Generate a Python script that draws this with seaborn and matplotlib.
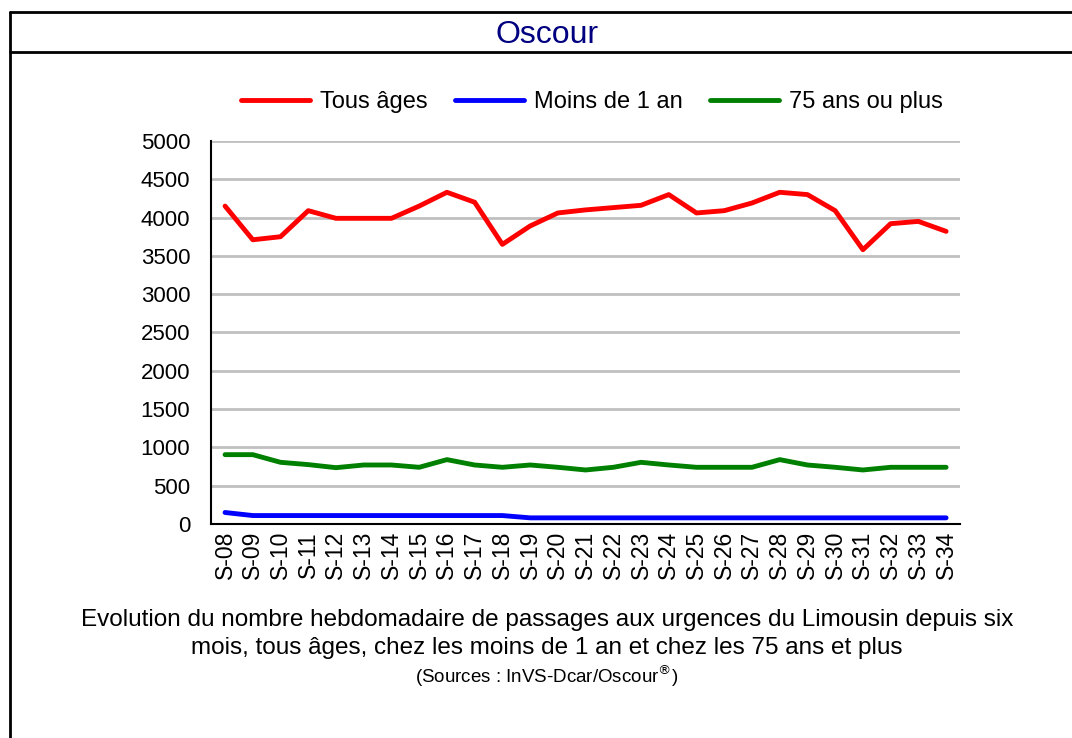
import numpy as np
import pandas as pd
import seaborn as sns
import matplotlib

matplotlib.use('Agg')
import matplotlib.pyplot as plt
from matplotlib.lines import Line2D

# Semaines S-08 .. S-34
semaines = [f"S-{i:02d}" for i in range(8, 35)]

tous_ages = [4150, 3710, 3750, 4090, 3990, 3990, 3990, 4150, 4330, 4200,
             3650, 3890, 4060, 4100, 4130, 4160, 4300, 4060, 4090, 4190,
             4330, 4300, 4090, 3580, 3920, 3950, 3820]
moins_1_an = [150, 110, 110, 110, 110, 110, 110, 110, 110, 110,
              110, 80, 80, 80, 80, 80, 80, 80, 80, 80,
              80, 80, 80, 80, 80, 80, 80]
plus_75 = [905, 905, 805, 775, 735, 770, 770, 740, 840, 770,
           740, 770, 740, 705, 740, 805, 770, 740, 740, 740,
           840, 770, 740, 705, 740, 740, 740]

series = ['Tous âges', 'Moins de 1 an', '75 ans ou plus']
couleurs = ['#ff0000', '#0000ff', '#008000']

df = pd.DataFrame({
    'Semaine': semaines * 3,
    'Serie': np.repeat(series, len(semaines)),
    'Passages': tous_ages + moins_1_an + plus_75,
})
df['pos'] = np.tile(np.arange(len(semaines)), 3)

sns.set_style('white')
plt.rcParams['font.family'] = ['Liberation Sans', 'DejaVu Sans']
plt.rcParams['text.color'] = 'black'
plt.rcParams['xtick.color'] = 'black'
plt.rcParams['ytick.color'] = 'black'
plt.rcParams['axes.labelcolor'] = 'black'

fig = plt.figure(figsize=(10.72, 7.38), dpi=100)
ax = fig.add_axes([0.197, 0.29, 0.6985, 0.519])

sns.lineplot(data=df, x='pos', y='Passages', hue='Serie', hue_order=series,
             palette=couleurs, linewidth=3.5, ax=ax, legend=False)

ax.set_xlim(-0.5, len(semaines) - 0.5)
ax.set_ylim(0, 5000)
ax.set_yticks(range(0, 5001, 500))
ax.set_xticks(range(len(semaines)))
ax.set_xticklabels(semaines, rotation=90, fontsize=16.5)
ax.set_xticks(np.arange(-0.5, len(semaines), 1), minor=True)
ax.tick_params(axis='x', which='major', length=0, pad=5)
ax.tick_params(axis='x', which='minor', length=6, width=1.5, color='black', direction='out')
ax.tick_params(axis='y', length=6, width=1.5, color='black', direction='out',
               labelsize=16, pad=9)
ax.set_xlabel('')
ax.set_ylabel('')
ax.yaxis.grid(True, color='#c0c0c0', linewidth=2)
ax.set_axisbelow(True)
for s in ['top', 'right']:
    ax.spines[s].set_visible(False)
for s in ['left', 'bottom']:
    ax.spines[s].set_color('black')
    ax.spines[s].set_linewidth(1.5)

handles = [Line2D([0], [0], color=c, linewidth=3.5) for c in couleurs]
fig.legend(handles, series, loc='center', bbox_to_anchor=(0.552, 0.862), ncol=3,
           frameon=False, fontsize=17, handlelength=2.95, columnspacing=1.15,
           handletextpad=0.4)

# cadre
fig.add_artist(Line2D([0.0093, 1.0], [0.984, 0.984], color='black', linewidth=2, transform=fig.transFigure))
fig.add_artist(Line2D([0.0093, 1.0], [0.929, 0.929], color='black', linewidth=2, transform=fig.transFigure))
fig.add_artist(Line2D([0.0093, 0.0093], [0.0, 0.984], color='black', linewidth=2, transform=fig.transFigure))

fig.text(0.51, 0.953, 'Oscour', ha='center', va='center', fontsize=23, color='#000080')

fig.text(0.51, 0.16, 'Evolution du nombre hebdomadaire de passages aux urgences du Limousin depuis six',
         ha='center', va='center', fontsize=17.5)
fig.text(0.51, 0.122, 'mois, tous âges, chez les moins de 1 an et chez les 75 ans et plus',
         ha='center', va='center', fontsize=17.5)
fig.text(0.51, 0.084, '(Sources : InVS-Dcar/Oscour$^{®}$)', ha='center', va='center', fontsize=13.5)

fig.savefig('out.png', dpi=100)
